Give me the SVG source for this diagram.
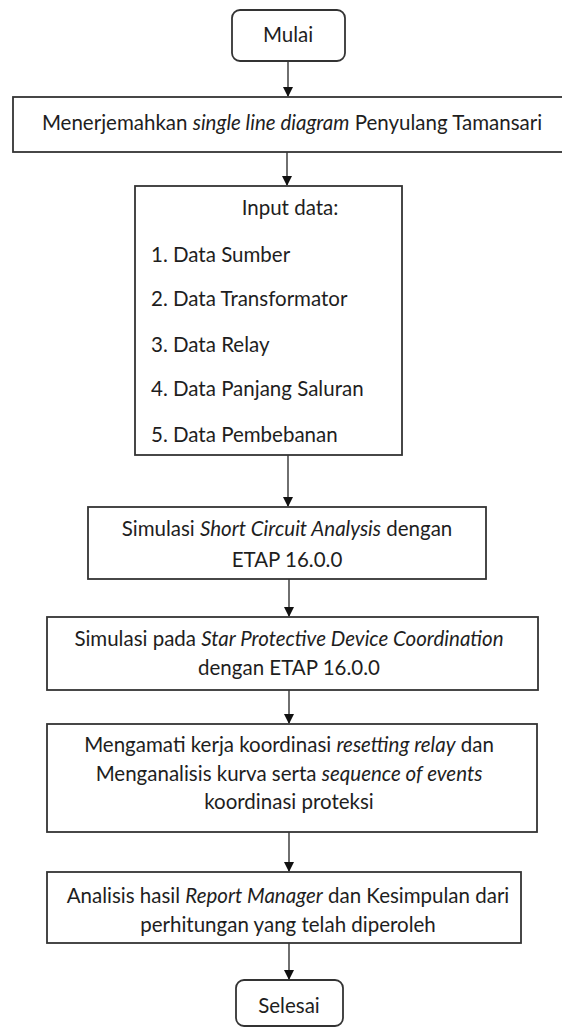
<svg xmlns="http://www.w3.org/2000/svg" width="562" height="1028" viewBox="0 0 562 1028">
<style>
.box{fill:#fff;stroke:#333;stroke-width:1.8}
.t{font-family:Lato,"Liberation Sans",sans-serif;font-size:20.5px;fill:#1e1e1e;text-anchor:middle}
.l{text-anchor:start}
.i{font-style:italic}
.c{stroke:#333;stroke-width:1.4;fill:none}
</style>
<defs>
<marker id="ah" markerWidth="10" markerHeight="10" refX="9" refY="5" orient="auto" markerUnits="userSpaceOnUse">
<path d="M0,0 L10,5 L0,10 z" fill="#111"/>
</marker>
</defs>
<rect width="562" height="1028" fill="#fff"/>
<g id="connectors">
<line class="c" x1="288" y1="61" x2="288" y2="96" marker-end="url(#ah)"/>
<line class="c" x1="287" y1="152" x2="287" y2="185" marker-end="url(#ah)"/>
<line class="c" x1="288" y1="455" x2="288" y2="506" marker-end="url(#ah)"/>
<line class="c" x1="289" y1="579" x2="289" y2="616" marker-end="url(#ah)"/>
<line class="c" x1="289" y1="690" x2="289" y2="723" marker-end="url(#ah)"/>
<line class="c" x1="289" y1="832" x2="289" y2="871" marker-end="url(#ah)"/>
<line class="c" x1="289" y1="943" x2="289" y2="979" marker-end="url(#ah)"/>
</g>
<g id="mulai">
<rect class="box" x="232" y="10" width="113" height="51" rx="8"/>
<text class="t" x="288" y="42">Mulai</text>
</g>
<g id="menerjemahkan">
<rect class="box" x="13" y="97" width="560" height="55"/>
<text class="t" x="292" y="130">Menerjemahkan <tspan class="i">single line diagram</tspan> Penyulang Tamansari</text>
</g>
<g id="input">
<rect class="box" x="135" y="186" width="267" height="269"/>
<text class="t" x="290" y="215">Input data:</text>
<text class="t l" x="151" y="262">1. Data Sumber</text>
<text class="t l" x="151" y="306">2. Data Transformator</text>
<text class="t l" x="151" y="352">3. Data Relay</text>
<text class="t l" x="151" y="396">4. Data Panjang Saluran</text>
<text class="t l" x="151" y="442">5. Data Pembebanan</text>
</g>
<g id="shortcircuit">
<rect class="box" x="88" y="507" width="398" height="72"/>
<text class="t" x="287" y="536">Simulasi <tspan class="i">Short Circuit Analysis</tspan> dengan</text>
<text class="t" x="287" y="567">ETAP 16.0.0</text>
</g>
<g id="star">
<rect class="box" x="47" y="617" width="491" height="73"/>
<text class="t" x="289" y="646">Simulasi pada <tspan class="i">Star Protective Device Coordination</tspan></text>
<text class="t" x="289" y="675">dengan ETAP 16.0.0</text>
</g>
<g id="mengamati">
<rect class="box" x="47" y="724" width="490" height="108"/>
<text class="t" x="289" y="752">Mengamati kerja koordinasi <tspan class="i">resetting relay</tspan> dan</text>
<text class="t" x="289" y="781">Menganalisis kurva serta <tspan class="i">sequence of events</tspan></text>
<text class="t" x="289" y="809">koordinasi proteksi</text>
</g>
<g id="analisis">
<rect class="box" x="47" y="872" width="474" height="71"/>
<text class="t" x="288" y="903">Analisis hasil <tspan class="i">Report Manager</tspan> dan Kesimpulan dari</text>
<text class="t" x="288" y="932">perhitungan yang telah diperoleh</text>
</g>
<g id="selesai">
<rect class="box" x="236" y="980" width="107" height="46" rx="8"/>
<text class="t" x="289" y="1013">Selesai</text>
</g>
</svg>
